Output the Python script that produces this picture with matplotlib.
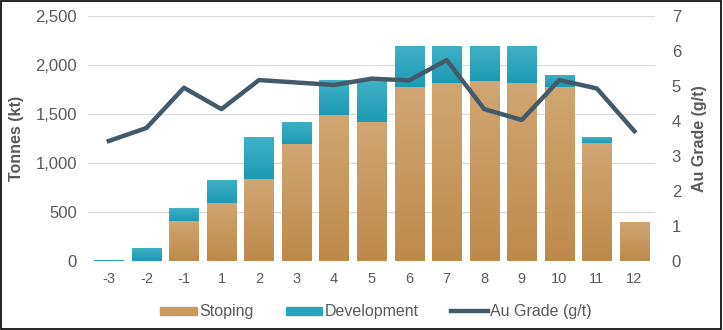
import numpy as np
import matplotlib.pyplot as plt
from matplotlib.colors import LinearSegmentedColormap
from matplotlib.patches import Rectangle, Patch
from matplotlib.lines import Line2D

plt.rcParams['font.family'] = ['Liberation Sans', 'DejaVu Sans']

# ------------------------------------------------------------------
# data
# ------------------------------------------------------------------
years       = ['-3', '-2', '-1', '1', '2', '3', '4', '5', '6', '7', '8', '9', '10', '11', '12']
stoping     = [0, 0, 410, 595, 840, 1195, 1490, 1420, 1780, 1815, 1840, 1815, 1775, 1205, 400]
development = [15, 135, 130, 235, 425, 225, 355, 420, 415, 380, 355, 380, 125, 60, 0]
au_grade    = [3.43, 3.80, 4.95, 4.34, 5.17, 5.10, 5.03, 5.21, 5.16, 5.74, 4.34, 4.03, 5.17, 4.93, 3.71]

C_STOPE = '#C99A5E'
C_DEV   = '#2AA5BE'
C_LINE  = '#435A6B'
C_TEXT  = '#595959'
C_GRID  = '#D9D9D9'

stope_cmap = LinearSegmentedColormap.from_list('stope', ['#BE8A4A', '#D1A673'])
dev_cmap   = LinearSegmentedColormap.from_list('dev', ['#1E9AB4', '#3FB1C7'])


def gradient_fill(ax, bars, cmap):
    """Replace flat bar faces with a vertical gradient (dark at bottom)."""
    grad = np.linspace(0, 1, 64).reshape(-1, 1)
    for b in bars:
        if b.get_height() <= 0:
            continue
        x0, y0 = b.get_x(), b.get_y()
        x1, y1 = x0 + b.get_width(), y0 + b.get_height()
        im = ax.imshow(grad, cmap=cmap, origin='lower', aspect='auto',
                       extent=(x0, x1, y0, y1), zorder=b.get_zorder())
        im.set_clip_path(b)
        b.set_facecolor('none')


fig = plt.figure(figsize=(7.23, 3.30), dpi=100)
ax = fig.add_axes([0.122, 0.209, 0.784, 0.7425])
ax2 = ax.twinx()

x = np.arange(len(years))
b1 = ax.bar(x, stoping, width=0.78, color=C_STOPE, zorder=2)
b2 = ax.bar(x, development, width=0.78, bottom=stoping, color=C_DEV, zorder=2)
gradient_fill(ax, b1, stope_cmap)
gradient_fill(ax, b2, dev_cmap)
ax2.plot(x, au_grade, color=C_LINE, lw=3.2, zorder=3)

ax.set_ylim(0, 2500)
ax.set_yticks(range(0, 2501, 500))
ax.set_yticklabels([f'{v:,}' for v in range(0, 2501, 500)])
ax2.set_ylim(0, 7)
ax2.set_yticks(range(0, 8))
ax.set_xlim(-0.55, len(years) - 0.45)
ax.set_xticks(x)
ax.set_xticklabels(years)

ax.grid(axis='y', color=C_GRID, lw=0.8, zorder=0)
ax.set_axisbelow(True)
for a in (ax, ax2):
    for s in a.spines.values():
        s.set_visible(False)
    a.tick_params(length=0, colors=C_TEXT)
ax.tick_params(axis='y', labelsize=12, pad=8)
ax.tick_params(axis='x', labelsize=10.5, pad=8)
ax2.tick_params(axis='y', labelsize=12, pad=12)

ax.set_ylabel('Tonnes (kt)', fontsize=11.5, fontweight='bold', color=C_TEXT, labelpad=8)
ax2.set_ylabel('Au Grade (g/t)', fontsize=11.5, fontweight='bold', color=C_TEXT, labelpad=8)

handles = [Patch(color=C_STOPE), Patch(color=C_DEV), Line2D([], [], color=C_LINE, lw=3.2)]
fig.legend(handles, ['Stoping', 'Development', 'Au Grade (g/t)'],
           loc='center', bbox_to_anchor=(0.52, 0.055), ncol=3, frameon=False,
           fontsize=11.5, labelcolor=C_TEXT, handlelength=2.3, handleheight=0.4,
           handletextpad=0.15, columnspacing=2.0)

fig.patches.append(Rectangle((0.002, 0.003), 0.995, 0.994, transform=fig.transFigure,
                             fill=False, edgecolor='black', lw=1.2))

fig.savefig('out.png', dpi=100)
